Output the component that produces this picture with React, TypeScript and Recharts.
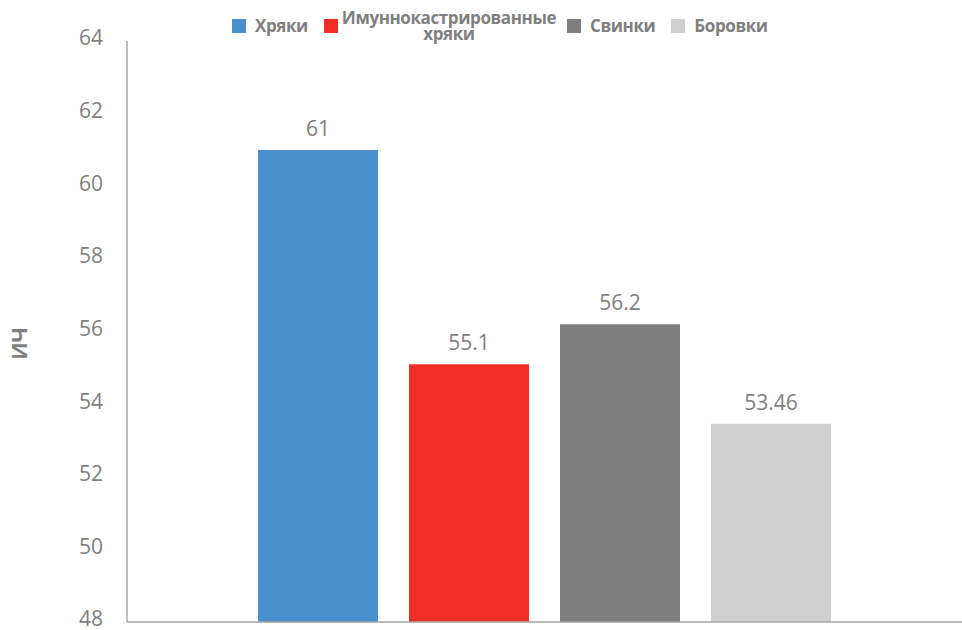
import React from 'react';
import { BarChart, Bar, XAxis, YAxis, LabelList } from 'recharts';

const seriesNames = ['Хряки', 'Имуннокастрированные хряки', 'Свинки', 'Боровки'];
const seriesValues = [61, 55.1, 56.2, 53.46];
const seriesColors = ['#4a8fcd', '#ee2d24', '#7f7f7f', '#d0cfd0'];
const yTicks = [48, 50, 52, 54, 56, 58, 60, 62, 64];
const yLabel = 'ИЧ';

const keys = seriesNames.map((_, i) => `s${i}`);
const row: Record<string, number | string> = { name: '' };
keys.forEach((k, i) => { row[k] = seriesValues[i]; });
const data = [row];

const FONT = '"Open Sans", sans-serif';

const LegendContent = () => (
  <div style={{ display: 'flex', justifyContent: 'flex-start', alignItems: 'center', fontFamily: FONT, fontWeight: 700, fontSize: 17, color: '#7f7f7f', lineHeight: '16px', paddingLeft: 232 }}>
    {seriesNames.map((n, i) => (
      <div key={n} style={{ display: 'flex', alignItems: 'center', marginRight: i === 1 ? 10 : 16 }}>
        <span style={{ width: 14, height: 14, background: seriesColors[i], display: 'inline-block', marginRight: i === 1 ? 3 : 9, flex: 'none' }} />
        <span style={{ textAlign: 'center', maxWidth: i === 1 ? 216 : undefined, letterSpacing: -0.4, whiteSpace: i === 1 ? 'normal' : 'nowrap' }}>{n}</span>
      </div>
    ))}
  </div>
);

const YLabel = (props: any) => {
  const vb = props.viewBox || {};
  const x = 19;
  const y = vb.y + vb.height / 2 + 12;
  return (
    <text x={x} y={y} transform={`rotate(-90, ${x}, ${y})`} textAnchor="middle" dominantBaseline="central" fill="#7f7f7f" fontFamily={FONT} fontWeight={700} fontSize={21}>
      {yLabel}
    </text>
  );
};

export default function App() {
  return (
    <div style={{ position: 'absolute', left: 0, top: 0, width: 962, height: 630, background: '#fff' }}>
      <BarChart width={962} height={630} data={data} margin={{ top: 41, right: 0, left: 0, bottom: 7 }} barSize={120} barGap={31}>
        <XAxis dataKey="name" tick={false} tickLine={false} height={1} axisLine={{ stroke: '#a6a6a6', strokeWidth: 1.5 }} />
        <YAxis
          width={127}
          domain={[48, 64]}
          ticks={yTicks}
          interval={0}
          allowDataOverflow
          tickLine={false}
          tickSize={0}
          tickMargin={24}
          axisLine={{ stroke: '#a6a6a6', strokeWidth: 1.5 }}
          tick={{ fill: '#7f7f7f', fontFamily: FONT, fontSize: 21, dy: -3 }}
          label={<YLabel />}
        />
        {keys.map((k, i) => (
          <Bar key={k} dataKey={k} name={seriesNames[i]} fill={seriesColors[i]} isAnimationActive={false}>
            <LabelList dataKey={k} position="top" offset={14} fill="#7f7f7f" fontFamily={FONT} fontSize={21} />
          </Bar>
        ))}
      </BarChart>
      <div style={{ position: 'absolute', left: 0, top: 10, width: 962 }}>
        <LegendContent />
      </div>
    </div>
  );
}
